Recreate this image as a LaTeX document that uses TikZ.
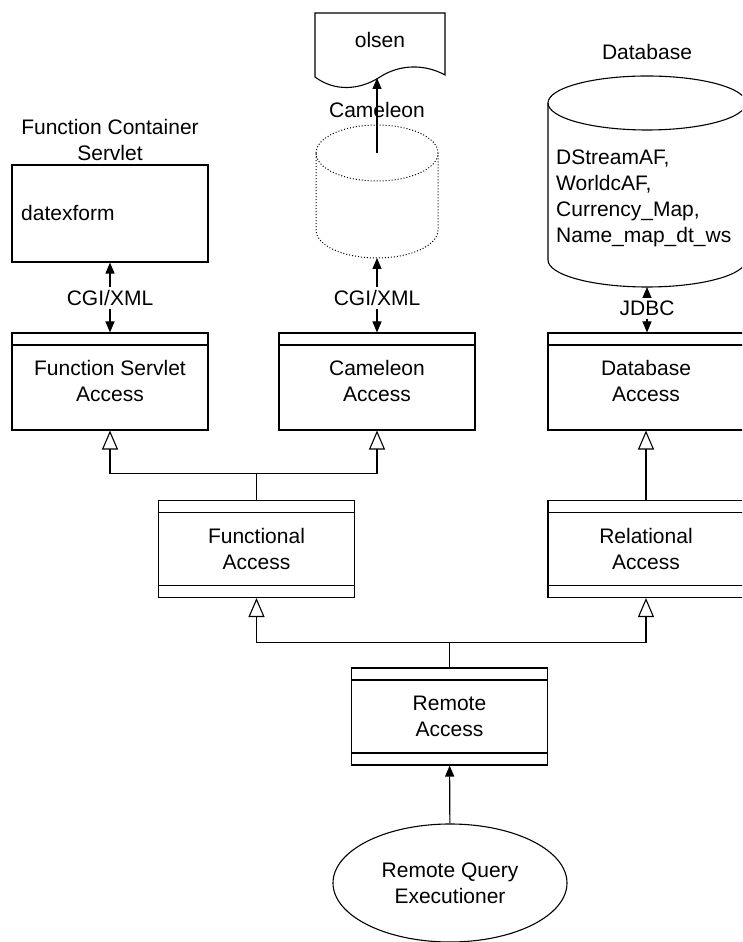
\documentclass[tikz,border=0pt]{standalone}
\usepackage{fontspec}
\setmainfont{Liberation Sans}
\usepackage{tikz}
\usetikzlibrary{arrows.meta,shapes.geometric}

\tikzset{
 cls/.style={draw, line width=1.1pt, minimum width=196pt, minimum height=97pt, align=center, inner sep=0pt},
 clsone/.style={cls, path picture={\draw[line width=1.1pt] ([yshift=-12pt]path picture bounding box.north west) -- ([yshift=-12pt]path picture bounding box.north east);}},
 clstwo/.style={cls, path picture={\draw[line width=1.1pt] ([yshift=-12pt]path picture bounding box.north west) -- ([yshift=-12pt]path picture bounding box.north east);
   \draw[line width=1.1pt] ([yshift=12pt]path picture bounding box.south west) -- ([yshift=12pt]path picture bounding box.south east);}},
 inh/.style={-{Triangle[open,length=19pt,width=16pt]}, line width=1.1pt},
 req/.style={-{Triangle[length=11pt,width=9pt]}, line width=1.1pt},
 lbl/.style={inner sep=3pt, align=center}
}

\begin{document}
\begin{tikzpicture}[x=1pt, y=1pt, every node/.style={font=\fontsize{21}{26}\selectfont}]
 \path[use as bounding box] (0,0) rectangle (742,942);
 \clip (0,0) rectangle (742,942);

% top: function container
\node[lbl] (fcstitle) at (110,802) {Function Container\\Servlet};
\node[draw, line width=1.1pt, minimum width=196pt, minimum height=97pt] (fcs) at (110,728.5) {};
\node[anchor=west, inner sep=0pt] (datex) at (21,729) {datexform};

% top: cameleon store and olsen
\draw[line width=1.1pt] (315,929) -- (315,865) .. controls (335,850) and (360,852) .. (380,865)
   .. controls (400,878) and (425,878) .. (445,867) -- (445,929) -- cycle;
\node (olsen) at (380,902) {olsen};
\coordinate (olsenbot) at (377,864);
\draw[dotted, line width=1pt] (316,789) arc[start angle=180, end angle=0, x radius=61, y radius=28]
   -- (438,712) arc[start angle=0, end angle=-180, x radius=61, y radius=28] -- cycle;
\draw[dotted, line width=1pt] (316,789) arc[start angle=180, end angle=360, x radius=61, y radius=28];
\coordinate (camin) at (377,789);
\coordinate (cambot) at (377,684);
\draw[req] (camin) -- (olsenbot);
\node (camlbl) at (377,832) {Cameleon};

% top: database
\node (dbtitle) at (647,890) {Database};
\draw[line width=1.1pt] (647,839) ellipse [x radius=99, y radius=27];
\draw[line width=1.1pt] (548,839) -- (548,682) arc[start angle=180, end angle=360, x radius=99, y radius=27] -- (746,839);
\coordinate (dbbot) at (647,655);
\node[anchor=west, align=left, inner sep=0pt] (tables) at (556,744) {DStreamAF,\\WorldcAF,\\Currency\_Map,\\Name\_map\_dt\_ws};

% access classes
\node[clsone] (fsa) at (110,560.5) {Function Servlet\\Access};
\node[clsone] (cga) at (377,560.5) {Cameleon\\Access};
\node[clsone] (dba) at (646,560.5) {Database\\Access};
\node[clstwo] (fun) at (256.5,393) {Functional\\Access};
\node[clstwo] (rel) at (646,393) {Relational\\Access};
\node[clstwo] (rem) at (449.5,225.5) {Remote\\Access};
\node[draw, ellipse, line width=1.1pt, minimum width=234pt, minimum height=118pt, align=center, inner sep=0pt] (rqe) at (450,59) {Remote Query\\Executioner};

% protocols
\node[lbl] (cgi1) at (110,644) {CGI/XML};
\node[lbl] (cgi2) at (377,644) {CGI/XML};
\node[lbl] (jdbc) at (647,634) {JDBC};
\draw[req] (cgi1) -- (fcs);
\draw[req] (cgi1) -- (fsa);
\draw[req] (cgi2) -- (cambot);
\draw[req] (cgi2) -- (cga);
\draw[req] (jdbc) -- (dbbot);
\draw[req] (jdbc) -- (jdbc |- dba.north);

% inheritance
\draw[inh] (fun.north) -- ++(0,26) -| (fsa.south);
\draw[inh] (fun.north) -- ++(0,26) -| (cga.south);
\draw[inh] (rel) -- (dba);
\draw[inh] (rem.north) -- ++(0,25) -| (fun.south);
\draw[inh] (rem.north) -- ++(0,25) -| (rel.south);
\draw[req] (rqe) -- (rem);

\end{tikzpicture}
\end{document}
